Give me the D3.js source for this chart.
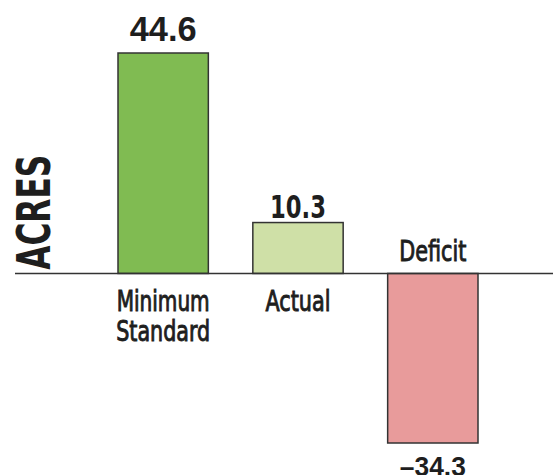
<!DOCTYPE html>
<html><head><meta charset="utf-8">
<script src="https://cdn.jsdelivr.net/npm/d3@7"></script>
<style>html,body{margin:0;padding:0;background:#fff;overflow:hidden}</style>
</head><body>
<svg id="c" width="553" height="475"></svg>
<script>
const categories = ["Minimum Standard", "Actual", "Deficit"];
const values = [44.6, 10.3, -34.3];
const valueLabels = ["44.6", "10.3", "\u201334.3"];
const colors = ["#80bb52", "#cfe0a7", "#e89b9b"];
const axisTitle = "ACRES";

const svg = d3.select("#c");
const x = d3.scaleBand().domain(categories).range([118, 478]).paddingInner(0.33).paddingOuter(0);
const y = d3.scaleLinear().domain([-34.3, 44.6]).range([443, 53]);
const y0 = y(0);
const data = categories.map((c, i) => ({c, v: values[i], label: valueLabels[i], color: colors[i]}));
const condensed = "'DejaVu Sans Condensed', 'DejaVu Sans', sans-serif";

svg.selectAll("rect.bar").data(data).join("rect")
  .attr("class", "bar")
  .attr("x", d => x(d.c))
  .attr("width", x.bandwidth())
  .attr("y", d => Math.min(y(d.v), y0))
  .attr("height", d => Math.abs(y(d.v) - y0))
  .attr("fill", d => d.color)
  .attr("stroke", "#333")
  .attr("stroke-width", 1.5);

svg.append("line")
  .attr("x1", 15).attr("x2", 553).attr("y1", y0).attr("y2", y0)
  .attr("stroke", "#333").attr("stroke-width", 1.6);

// value labels
const valFont = ["'Liberation Sans', Arial, sans-serif", condensed, "'Liberation Sans', Arial, sans-serif"];
const valSize = [35, 32, 28];
const valLen = [67, 56, 66];
svg.selectAll("text.val").data(data).join("text")
  .attr("class", "val")
  .attr("x", d => x(d.c) + x.bandwidth() / 2)
  .attr("y", d => d.v >= 0 ? y(d.v) - (d.v > 20 ? 12 : 5) : y(d.v) + 33)
  .attr("text-anchor", "middle")
  .attr("font-family", (d, i) => valFont[i])
  .attr("font-weight", "bold")
  .attr("font-size", (d, i) => valSize[i])
  .attr("textLength", (d, i) => valLen[i])
  .attr("lengthAdjust", "spacingAndGlyphs")
  .attr("fill", "#1e1e1e")
  .text(d => d.label);

// category labels
const wordLen = {Minimum: 93, Standard: 94, Actual: 65, Deficit: 67};
const catG = svg.selectAll("g.cat").data(data).join("g").attr("class", "cat")
  .attr("transform", d => `translate(${x(d.c) + x.bandwidth() / 2},0)`);
catG.each(function(d) {
  const g = d3.select(this);
  const words = d.c === "Minimum Standard" ? ["Minimum", "Standard"] : [d.c];
  const base = d.v >= 0 ? y0 + 38 : y0 - 12;
  words.forEach((w, k) => {
    g.append("text")
      .attr("x", 0)
      .attr("y", base + k * 30)
      .attr("text-anchor", "middle")
      .attr("font-family", condensed)
      .attr("font-size", 28)
      .attr("textLength", wordLen[w])
      .attr("lengthAdjust", "spacingAndGlyphs")
      .attr("fill", "#1e1e1e")
      .attr("stroke", "#1e1e1e")
      .attr("stroke-width", 0.9)
      .text(w);
  });
});

// axis title
svg.append("text")
  .attr("transform", `translate(50,${(y0 + 153) / 2 - 1}) rotate(-90)`)
  .attr("text-anchor", "middle")
  .attr("font-family", condensed)
  .attr("font-weight", "bold")
  .attr("font-size", 47)
  .attr("textLength", 115)
  .attr("lengthAdjust", "spacingAndGlyphs")
  .attr("fill", "#1e1e1e")
  .text(axisTitle);
</script>
</body></html>
